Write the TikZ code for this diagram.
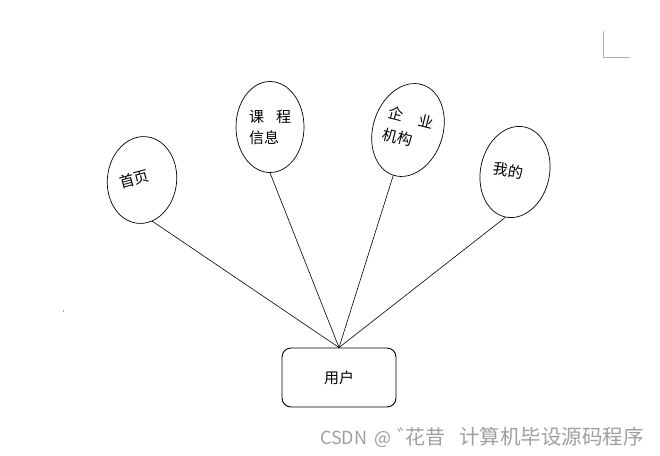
\documentclass[tikz,border=0pt]{standalone}
\usepackage{fontspec}
\newfontfamily\cjk{Noto Sans CJK SC}
\usetikzlibrary{shapes.geometric}
\tikzset{
  topic/.style={ellipse, draw, line width=0.7pt, inner sep=0pt, align=left,
    minimum width=66pt, minimum height=88pt, font=\cjk\fontsize{15}{21}\selectfont},
  user/.style={draw, line width=0.9pt, rounded corners=9pt,
    minimum width=114pt, minimum height=59pt, font=\cjk\fontsize{15}{17}\selectfont},
  link/.style={line width=0.6pt},
  wmtext/.style={text=gray!75, inner sep=0pt, anchor=base west}
}

\begin{document}
\begin{tikzpicture}[x=1pt, y=-1pt]
\useasboundingbox (0,0) rectangle (660,455);

\node[topic, rotate=-6, minimum width=69pt, minimum height=87pt] (sy) at (142,180)
  {\rotatebox{21}{首页}\hspace{16pt}};
\node[topic, minimum width=68pt, minimum height=91pt] (kc) at (270,127) {课\hspace{0.8em}程\\信息};
\node[topic, rotate=-18, minimum height=95pt] (qy) at (408,130)
  {\rotatebox{4}{\begin{tabular}{@{}l@{}}企\hspace{1.1em}业\\[1pt]机构\end{tabular}}};
\node[topic, rotate=-12, minimum width=69pt, minimum height=92pt] (wd) at (515,172)
  {\rotatebox{2}{我的}\hspace{14pt}};

\node[user] (yh) at (339,377.5) {用户};

\draw[link] (sy.290) -- (yh.north);
\draw[link] (kc.south) -- (yh.north);
\draw[link] (qy.south) -- (yh.north);
\draw[link] (wd.south) -- (yh.north);

% page corner mark and watermark
\draw[gray!60, line width=0.8pt] (603,31) -- (603,57) -- (630,57);
\fill[gray!70] (62.5,310) rectangle (63.5,312);
\node[wmtext, font=\cjk\fontsize{18}{20}\selectfont] (wm1) at (320,444) {CSDN\hspace{7pt}@};
\node[wmtext, font=\cjk\fontsize{20}{22}\selectfont] (wm2) at (397,444) {゛\kern-0.6em 花昔};
\node[wmtext, font=\cjk\fontsize{20.5}{22}\selectfont] (wm3) at (459,444) {计算机毕设源码程序};
\end{tikzpicture}
\end{document}
